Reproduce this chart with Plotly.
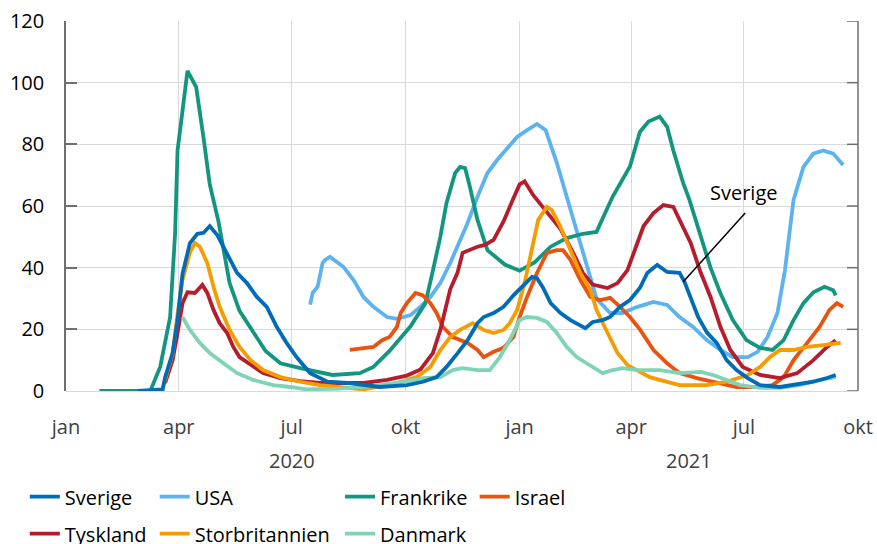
import pandas as pd
import plotly.graph_objects as go

# ---- data: day offsets from 2020-01-01 and values ----
sverige_days = [58,78,80,86,90,94,100,106,111,116,122,127,132,138,146,154,162,170,178,186,197,211,227,253,275,288,299,307,316,324,332,337,345,353,361,369,376,380,385,391,399,407,415,419,425,433,439,447,455,463,469,477,485,495,499,504,510,517,525,533,541,550,560,576,587,603,614,621]
sverige_vals = [0,0.5,4.5,12.3,23,38,48,51,51.3,53.5,50.6,46.8,42.5,38.3,35,30.5,27.3,20.8,15.6,11,5.8,3,2.6,1.3,1.9,3,4.5,7.8,12.3,16.5,22,24,25.3,27.3,31,34.4,37,36.6,33.4,28.5,25.3,23,21.4,20.4,22.4,23,24,27.3,29.5,33.4,38.3,40.9,38.6,38.3,35.4,30.5,24,19,15.6,10,6.8,4.2,1.9,1.3,1.9,3,4.2,5.2]

usa_days = [197,199,203,207,209,213,224,232,240,248,259,267,278,286,294,302,310,318,324,332,340,348,356,364,372,380,387,396,404,412,420,428,439,449,461,474,485,495,506,517,528,538,550,558,566,574,580,587,595,603,611,619,627]
usa_vals = [28,31.8,33.8,41.5,42.5,43.5,40.2,36,30.5,27.3,24,23.4,24.6,27.3,30.5,35,41.5,49,54.5,63,70.7,75,78.8,82.4,84.6,86.6,84.6,74,63,52,41.5,30,25.3,25.3,27.3,28.9,27.9,24,20.8,16.5,13.3,11,11,12.7,17.5,25.3,39,62,72.7,77,78,77,73.3]

frankrike_days = [27,68,76,84,88,90,98,105,111,116,123,127,132,140,150,161,173,189,215,237,248,261,278,290,296,302,307,314,318,322,326,332,340,348,354,366,378,391,404,417,428,441,455,463,470,479,485,490,498,503,512,520,528,538,549,560,570,579,587,595,603,612,619,621]
frankrike_vals = [0,0,7.8,24,51,78,103.8,98.6,82,67,55,46,35,26,20,13,9,7.4,5.2,5.8,7.8,13,21,28.5,39,50,61,70.7,72.7,72.3,66,55.5,45.7,43,41,39,41.7,46.8,49.6,51,51.6,63,72.8,84,87.4,89,85.7,78,67.4,62,50,40,31.7,23,16.5,14,13.3,16.5,23,28.5,32,33.8,32.7,31]

israel_days = [229,240,248,255,261,267,270,275,282,288,294,299,304,312,324,332,337,345,353,361,366,372,380,388,396,401,407,415,423,431,439,447,455,463,474,485,495,509,525,541,558,570,579,587,598,608,616,622,627]
israel_vals = [13.3,14,14.3,16.5,17.5,20.8,25.3,28.5,31.8,31,28.5,25.3,20.8,17.5,15.6,13.3,11,12.7,14,17.5,24,30.5,38.3,44.8,45.7,45.7,42.5,36,30.5,29.5,30.2,27.3,24,20,13.3,9,5.8,4.2,2.6,1.3,1.3,1.9,4.5,10,15.6,20.8,26.3,28.5,27.3]

tyskland_days = [80,86,90,94,98,104,110,114,119,124,130,135,140,149,159,173,189,205,240,259,275,286,296,302,306,310,316,320,332,338,345,353,361,366,370,377,388,399,409,417,425,437,445,453,461,466,474,482,490,495,504,512,520,528,536,546,560,576,590,603,614,621]
tyskland_vals = [2.6,10,18.8,28.5,32,31.8,34.4,31.8,26.3,22,18.8,14.3,11,8.4,5.8,4.2,3.2,2.6,2.6,3.6,5,7,12.3,19.8,26.3,33,38.5,44.8,46.8,47.4,49,55,62.5,67,68,63.5,58,52.5,45,38.3,34.5,33.4,35,39.2,48,53.5,57.7,60.3,59.7,55.5,48,38.5,30.5,20.8,13.3,7.8,5.2,4.2,5.8,10,14.3,16.5]

storbritannien_days = [78,86,90,94,100,104,108,114,119,124,132,140,149,159,173,189,205,219,240,267,283,294,302,310,318,328,337,345,353,358,364,370,376,381,388,392,399,407,415,423,428,437,445,453,461,471,479,495,517,533,550,560,568,576,587,598,611,625]
storbritannien_vals = [1,12,25,36,45,48,46.8,41.5,33.8,27.3,19.8,14.3,10,6.8,4.5,3,1.9,1.3,0.5,2.6,4.5,7.8,13.3,17.5,19.8,22,19.8,18.8,19.8,22,26.3,35,46.8,55.5,59.7,58.7,53.2,45.7,38.3,32.8,26.3,18.8,12.3,8.4,6.8,4.5,3.6,1.9,1.9,3,5.2,7.8,11,13.3,13.3,14.3,14.9,15.6]

danmark_days = [94,100,108,116,127,138,151,167,181,194,221,245,267,288,302,312,320,332,342,350,358,366,372,380,388,396,404,412,420,428,433,441,449,461,479,495,512,522,533,544,560,576,592,608,621]
danmark_vals = [24,19.8,15.6,12.3,9,5.8,3.6,1.9,1.3,0.5,0.8,1.5,2.6,4.2,4.5,6.8,7.4,6.8,6.8,11,16.5,23,24,23.7,22.4,18.8,14.3,11,9,6.8,5.8,6.8,7.4,6.8,6.8,5.8,6.2,5.2,3.6,1.9,1,1,1.9,3.6,4.5]

tick_dates = ['2020-01-01','2020-04-01','2020-07-01','2020-10-01','2021-01-01','2021-04-01','2021-07-01','2021-10-01']
tick_labels = ['jan','apr','jul','okt','jan','apr','jul','okt']
y_ticks = [0, 20, 40, 60, 80, 100, 120]
year_labels = ['2020', '2021']
year_centers = ['2020-07-01', '2021-05-18']

START = pd.Timestamp('2020-01-01')
def to_dates(days):
    return [START + pd.Timedelta(days=float(d)) for d in days]

FONT = "Open Sans, sans-serif"
FS = 20
AXIS_COL = '#6F6F6F'
PLOT_W = 877 - 66 - 19
TICK_LEN = 11

series = [
    # name, days, vals, color, legend, rank
    ('USA', usa_days, usa_vals, '#5CB3F0', 'legend2', 2),
    ('Frankrike', frankrike_days, frankrike_vals, '#12967F', 'legend3', 3),
    ('Israel', israel_days, israel_vals, '#E9530F', 'legend4', 4),
    ('Tyskland', tyskland_days, tyskland_vals, '#B71C2C', 'legend', 5),
    ('Storbritannien', storbritannien_days, storbritannien_vals, '#F49C00', 'legend2', 6),
    ('Danmark', danmark_days, danmark_vals, '#7ED3B8', 'legend3', 7),
    ('Sverige', sverige_days, sverige_vals, '#006CB7', 'legend', 1),
]

fig = go.Figure()
for name, d, v, col, leg, rank in series:
    fig.add_trace(go.Scatter(
        x=to_dates(d), y=v, mode='lines', name=name,
        line=dict(color=col, width=3.8),
        legend=leg, legendrank=rank, legendgroup=name,
    ))

# year labels under the month ticks
for txt, xc in zip(year_labels, year_centers):
    fig.add_annotation(x=xc, y=-0.189, xref='x', yref='paper', text=txt,
                       showarrow=False, font=dict(family=FONT, size=FS, color='#404040'),
                       yanchor='middle')

# Sverige label with leader line
fig.add_annotation(x='2021-07-01', y=64.5, xref='x', yref='y', text='Sverige',
                   showarrow=False, font=dict(family=FONT, size=FS, color='#000000'))
fig.add_shape(type='line', xref='x', yref='y',
              x0='2021-07-02', y0=57.7, x1='2021-05-13', y1=35.4,
              line=dict(color='#000000', width=1.5))

# right-hand frame line with inward ticks (mirror of the value axis)
fig.add_shape(type='line', xref='paper', yref='paper', x0=1, x1=1, y0=0, y1=1,
              line=dict(color=AXIS_COL, width=1.5))
for v in y_ticks:
    fig.add_shape(type='line', xref='paper', yref='y',
                  x0=1 - TICK_LEN / PLOT_W, x1=1, y0=v, y1=v,
                  line=dict(color=AXIS_COL, width=1.5))

leg_common = dict(orientation='v', yanchor='top', xanchor='left', y=-0.233,
                  font=dict(family=FONT, size=FS, color='#000000'),
                  bgcolor='rgba(0,0,0,0)', tracegroupgap=8, itemwidth=30)
fig.update_layout(
    legend=dict(x=-0.052, **leg_common),
    legend2=dict(x=0.112, **leg_common),
    legend3=dict(x=0.346, **leg_common),
    legend4=dict(x=0.516, **leg_common),
)

fig.update_xaxes(
    type='date', range=['2020-01-01', '2021-10-01'],
    tickvals=tick_dates, ticktext=tick_labels,
    showgrid=True, gridcolor='#D9D9D9', gridwidth=1,
    showline=False, ticks='', zeroline=False, automargin=False,
    tickfont=dict(family=FONT, size=FS, color='#404040'),
    ticklabelstandoff=22,
)
fig.update_yaxes(
    range=[0, 120], tickvals=y_ticks,
    showgrid=True, gridcolor='#D9D9D9', gridwidth=1,
    zeroline=True, zerolinecolor='#D9D9D9', zerolinewidth=1,
    showline=True, linecolor=AXIS_COL, linewidth=1.5,
    ticks='inside', ticklen=TICK_LEN, tickcolor=AXIS_COL, tickwidth=1.5,
    tickfont=dict(family=FONT, size=FS, color='#000000'),
    ticklabelstandoff=16, automargin=False,
)
fig.update_layout(
    width=877, height=544,
    margin=dict(l=66, r=19, t=21, b=153, autoexpand=False),
    plot_bgcolor='white', paper_bgcolor='white',
    showlegend=True,
    font=dict(family=FONT),
)
fig.write_html('out.html', config={'displayModeBar': False},
               post_script="document.body.style.margin='0px';")
